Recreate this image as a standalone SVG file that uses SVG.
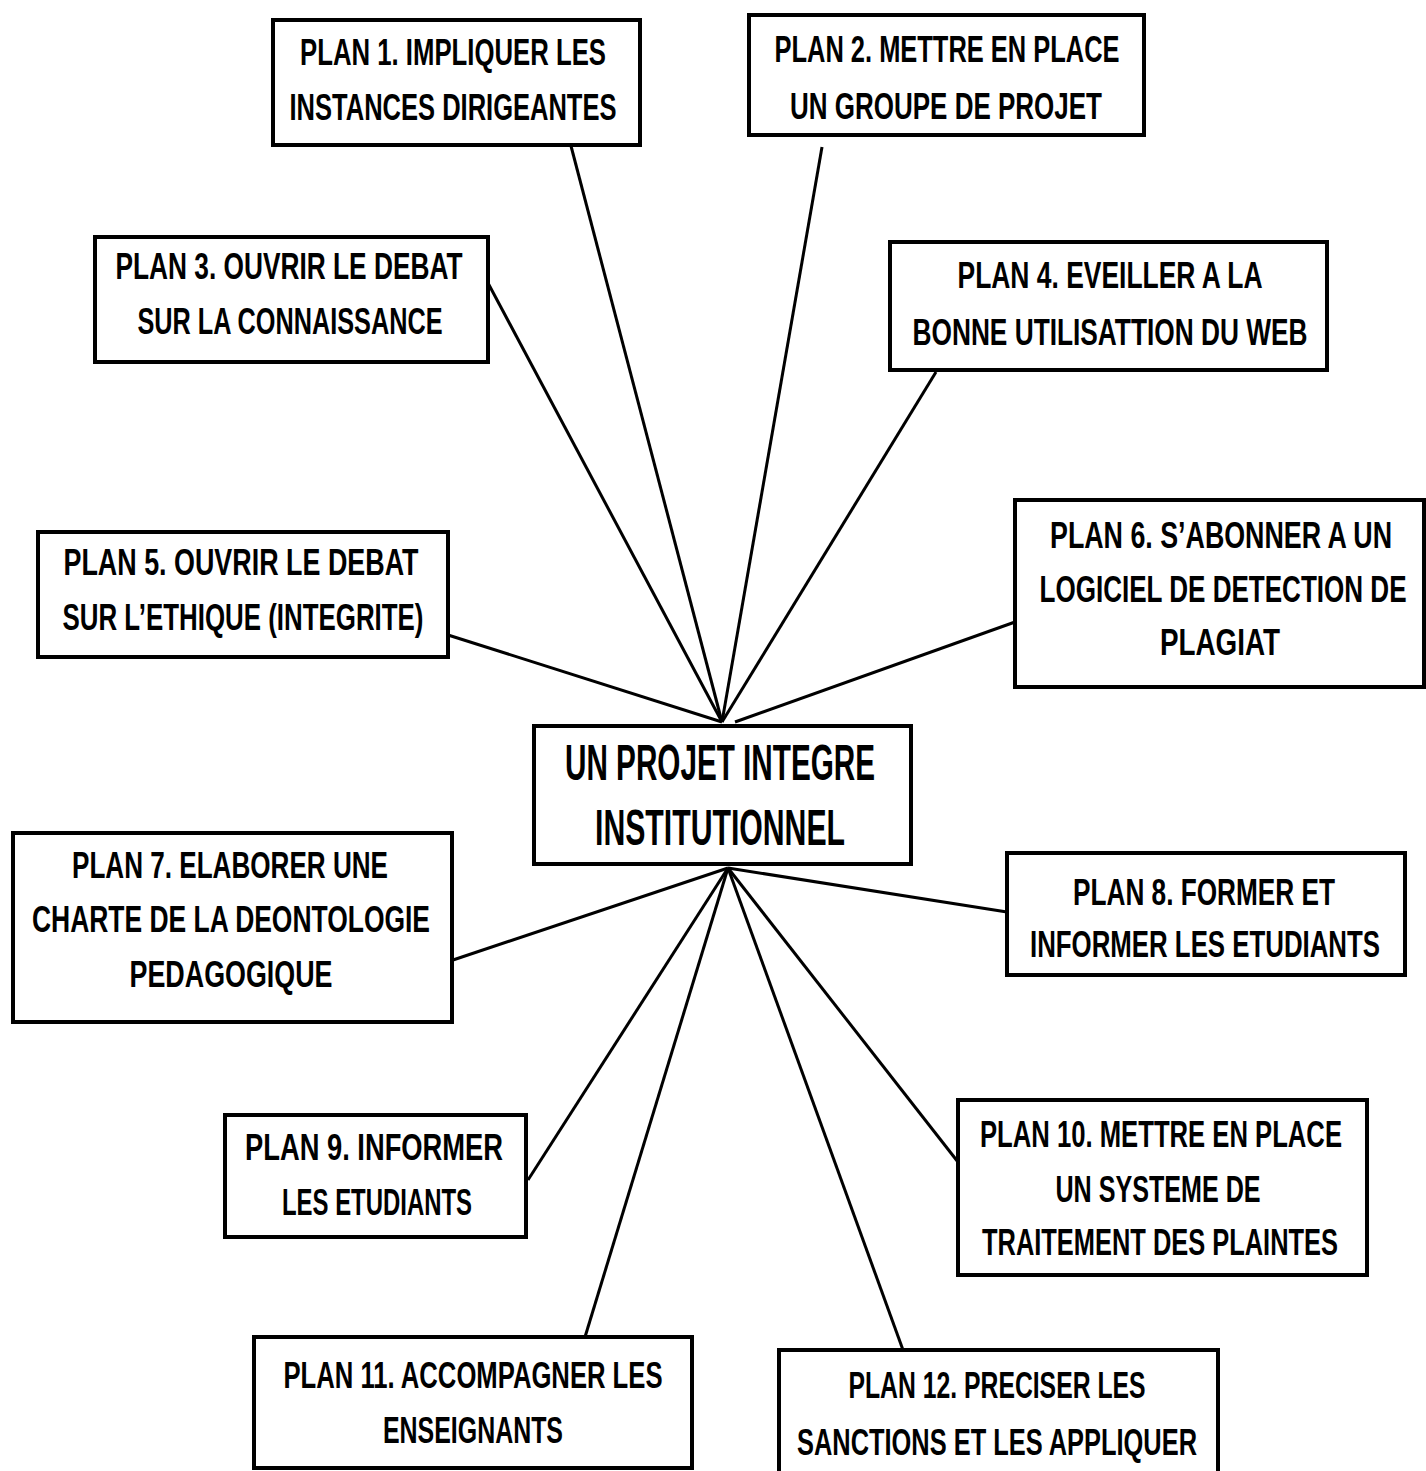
<svg xmlns="http://www.w3.org/2000/svg" width="1426" height="1471" viewBox="0 0 1426 1471">
<style>
.box{fill:#fff;stroke:#000;stroke-width:4}
.t{font-family:"Liberation Sans Narrow","Liberation Sans",Arial,sans-serif;font-weight:bold;font-size:37px;text-anchor:middle;fill:#000}
.tc{font-size:50px}
.c line{stroke:#000;stroke-width:3}
</style>
<rect width="1426" height="1471" fill="#fff"/>
<g class="c" id="connectors">
<line x1="571" y1="146" x2="722" y2="722"/>
<line x1="822" y1="147" x2="722" y2="722"/>
<line x1="488" y1="283" x2="722" y2="722"/>
<line x1="936" y1="372" x2="722" y2="722"/>
<line x1="448" y1="635" x2="722" y2="722"/>
<line x1="1015" y1="622" x2="735" y2="722"/>
<line x1="453" y1="960" x2="728" y2="868"/>
<line x1="1007" y1="912" x2="728" y2="868"/>
<line x1="528" y1="1180" x2="728" y2="868"/>
<line x1="958" y1="1162" x2="728" y2="868"/>
<line x1="585" y1="1337" x2="728" y2="868"/>
<line x1="903" y1="1350" x2="728" y2="868"/>
</g>
<g id="center">
<rect class="box" x="534" y="726" width="377" height="138"/>
<text class="t tc" x="720" y="780" textLength="310" lengthAdjust="spacingAndGlyphs">UN PROJET INTEGRE</text>
<text class="t tc" x="720" y="845" textLength="250" lengthAdjust="spacingAndGlyphs">INSTITUTIONNEL</text>
</g>
<g id="plan1">
<rect class="box" x="273" y="20" width="367" height="125"/>
<text class="t" x="453" y="65" textLength="306" lengthAdjust="spacingAndGlyphs">PLAN 1. IMPLIQUER LES</text>
<text class="t" x="453" y="120" textLength="327" lengthAdjust="spacingAndGlyphs">INSTANCES DIRIGEANTES</text>
</g>
<g id="plan2">
<rect class="box" x="749" y="15" width="395" height="120"/>
<text class="t" x="947" y="62" textLength="345" lengthAdjust="spacingAndGlyphs">PLAN 2. METTRE EN PLACE</text>
<text class="t" x="946" y="119" textLength="312" lengthAdjust="spacingAndGlyphs">UN GROUPE DE PROJET</text>
</g>
<g id="plan3">
<rect class="box" x="95" y="237" width="393" height="125"/>
<text class="t" x="289" y="279" textLength="347" lengthAdjust="spacingAndGlyphs">PLAN 3. OUVRIR LE DEBAT</text>
<text class="t" x="290" y="334" textLength="305" lengthAdjust="spacingAndGlyphs">SUR LA CONNAISSANCE</text>
</g>
<g id="plan4">
<rect class="box" x="890" y="242" width="437" height="128"/>
<text class="t" x="1110" y="288" textLength="305" lengthAdjust="spacingAndGlyphs">PLAN 4. EVEILLER A LA</text>
<text class="t" x="1110" y="345" textLength="395" lengthAdjust="spacingAndGlyphs">BONNE UTILISATTION DU WEB</text>
</g>
<g id="plan5">
<rect class="box" x="38" y="532" width="410" height="125"/>
<text class="t" x="241" y="575" textLength="355" lengthAdjust="spacingAndGlyphs">PLAN 5. OUVRIR LE DEBAT</text>
<text class="t" x="243" y="630" textLength="361" lengthAdjust="spacingAndGlyphs">SUR L’ETHIQUE (INTEGRITE)</text>
</g>
<g id="plan6">
<rect class="box" x="1015" y="500" width="409" height="187"/>
<text class="t" x="1221" y="548" textLength="342" lengthAdjust="spacingAndGlyphs">PLAN 6. S’ABONNER A UN</text>
<text class="t" x="1223" y="602" textLength="367" lengthAdjust="spacingAndGlyphs">LOGICIEL DE DETECTION DE</text>
<text class="t" x="1220" y="655" textLength="120" lengthAdjust="spacingAndGlyphs">PLAGIAT</text>
</g>
<g id="plan7">
<rect class="box" x="13" y="833" width="439" height="189"/>
<text class="t" x="230" y="878" textLength="316" lengthAdjust="spacingAndGlyphs">PLAN 7. ELABORER UNE</text>
<text class="t" x="231" y="932" textLength="398" lengthAdjust="spacingAndGlyphs">CHARTE DE LA DEONTOLOGIE</text>
<text class="t" x="231" y="987" textLength="203" lengthAdjust="spacingAndGlyphs">PEDAGOGIQUE</text>
</g>
<g id="plan8">
<rect class="box" x="1007" y="853" width="398" height="122"/>
<text class="t" x="1204" y="905" textLength="262" lengthAdjust="spacingAndGlyphs">PLAN 8. FORMER ET</text>
<text class="t" x="1205" y="957" textLength="350" lengthAdjust="spacingAndGlyphs">INFORMER LES ETUDIANTS</text>
</g>
<g id="plan9">
<rect class="box" x="225" y="1115" width="301" height="122"/>
<text class="t" x="374" y="1160" textLength="258" lengthAdjust="spacingAndGlyphs">PLAN 9. INFORMER</text>
<text class="t" x="377" y="1215" textLength="190" lengthAdjust="spacingAndGlyphs">LES ETUDIANTS</text>
</g>
<g id="plan10">
<rect class="box" x="958" y="1100" width="409" height="175"/>
<text class="t" x="1161" y="1147" textLength="362" lengthAdjust="spacingAndGlyphs">PLAN 10. METTRE EN PLACE</text>
<text class="t" x="1158" y="1202" textLength="205" lengthAdjust="spacingAndGlyphs">UN SYSTEME DE</text>
<text class="t" x="1160" y="1255" textLength="356" lengthAdjust="spacingAndGlyphs">TRAITEMENT DES PLAINTES</text>
</g>
<g id="plan11">
<rect class="box" x="254" y="1337" width="438" height="131"/>
<text class="t" x="473" y="1388" textLength="379" lengthAdjust="spacingAndGlyphs">PLAN 11. ACCOMPAGNER LES</text>
<text class="t" x="473" y="1443" textLength="180" lengthAdjust="spacingAndGlyphs">ENSEIGNANTS</text>
</g>
<g id="plan12">
<rect class="box" x="779" y="1350" width="439" height="140"/>
<text class="t" x="997" y="1398" textLength="297" lengthAdjust="spacingAndGlyphs">PLAN 12. PRECISER LES</text>
<text class="t" x="997" y="1455" textLength="400" lengthAdjust="spacingAndGlyphs">SANCTIONS ET LES APPLIQUER</text>
</g>
</svg>
